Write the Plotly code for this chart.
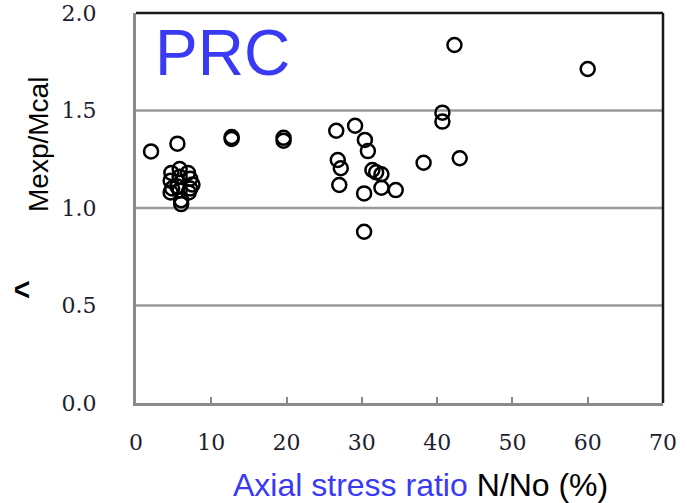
import plotly.graph_objects as go

# Data: axial stress ratio N/No (%) vs Mexp/Mcal
axial_ratio = [2.0, 5.5,
               4.7, 5.8, 6.9, 4.6, 5.8, 7.2, 7.5, 4.6, 5.8, 7.0, 4.8, 6.0, 6.0, 7.2, 5.5,
               12.7, 12.7, 19.6, 19.6,
               26.6, 29.1, 30.4, 30.8, 26.8, 27.2, 27.0, 30.3, 31.4, 31.9, 32.6, 32.6, 34.5, 30.3,
               38.2, 40.7, 40.7, 42.3, 43.0, 60.0]
m_ratio = [1.29, 1.33,
           1.18, 1.20, 1.18, 1.14, 1.16, 1.15, 1.12, 1.08, 1.09, 1.08, 1.10, 1.04, 1.02, 1.10, 1.11,
           1.364, 1.354, 1.36, 1.345,
           1.396, 1.422, 1.349, 1.292, 1.246, 1.204, 1.118, 1.075, 1.195, 1.183, 1.173, 1.104, 1.092, 0.878,
           1.232, 1.489, 1.443, 1.836, 1.255, 1.713]

x_ticks = [0, 10, 20, 30, 40, 50, 60, 70]
y_ticks = [0.0, 0.5, 1.0, 1.5, 2.0]
y_tick_labels = ["0.0", "0.5", "1.0", "1.5", "2.0"]

W, H = 687, 503
L, R, T, B = 136, 24, 13, 100
pw, ph = W - L - R, H - T - B

def px(x):
    return (x - L) / pw

def py(y):
    return (H - B - y) / ph

fig = go.Figure()
fig.add_trace(go.Scatter(
    x=axial_ratio, y=m_ratio, mode="markers",
    marker=dict(symbol="circle-open", size=14, color="black", line=dict(width=2.5, color="black")),
    showlegend=False, cliponaxis=False,
))

tick_font = dict(family="DejaVu Serif", size=22, color="#1e1e30")

fig.update_layout(
    width=W, height=H,
    margin=dict(l=L, r=R, t=T, b=B, pad=0, autoexpand=False),
    plot_bgcolor="white", paper_bgcolor="white",
    xaxis=dict(range=[0, 70], tickvals=x_ticks, ticks="inside", ticklen=6, tickwidth=2,
               tickcolor="#888888", showgrid=False, zeroline=False, automargin=False,
               showline=True, linecolor="#8a8a8a", linewidth=3,
               tickfont=tick_font, ticklabelstandoff=18),
    yaxis=dict(range=[0, 2.0], tickvals=y_ticks, ticktext=y_tick_labels, ticks="",
               showgrid=False, zeroline=False, automargin=False,
               showline=True, linecolor="#8a8a8a", linewidth=3,
               tickfont=tick_font, ticklabelstandoff=32),
)

# horizontal grid lines
for gy in [0.5, 1.0, 1.5]:
    fig.add_shape(type="line", xref="paper", yref="y", x0=0, x1=1, y0=gy, y1=gy,
                  line=dict(color="#9a9a9a", width=2.5), layer="below")

# top and right frame (black)
fig.add_shape(type="line", xref="paper", yref="paper", x0=0, x1=1, y0=1, y1=1,
              line=dict(color="#1a1a1a", width=2.5))
fig.add_shape(type="line", xref="paper", yref="paper", x0=1, x1=1, y0=0, y1=1,
              line=dict(color="#1a1a1a", width=2.5))

ann = dict(xref="paper", yref="paper", showarrow=False, xanchor="center", yanchor="middle")

# PRC label
fig.add_annotation(text="PRC", x=px(222), y=py(53),
                   font=dict(family="Liberation Sans", size=64, color="#3a3af5"), **ann)

# x-axis title
fig.add_annotation(text="<span style='color:#3a3af5'>Axial stress ratio</span> N/No (%)",
                   x=px(420), y=py(485),
                   font=dict(family="Liberation Sans", size=32, color="black"), **ann)

# y-axis title
fig.add_annotation(text="Mexp/Mcal", x=px(38), y=py(145), textangle=-90,
                   font=dict(family="Liberation Sans", size=28, color="black"), **ann)

# small stray glyph
fig.add_annotation(text="<b>^</b>", x=px(26), y=py(290), textangle=-90,
                   font=dict(family="Liberation Sans", size=32, color="black"), **ann)

fig.write_html("out.html")
